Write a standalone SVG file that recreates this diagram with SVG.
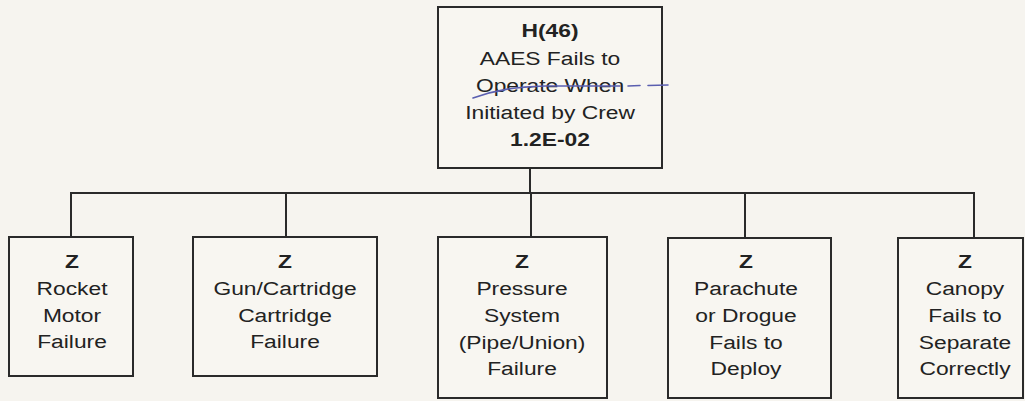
<svg xmlns="http://www.w3.org/2000/svg" width="1025" height="401" viewBox="0 0 1025 401">
<style>
.bg{fill:#f6f4ef}
.box{fill:#f8f6f1;stroke:#2a2a2a;stroke-width:2}
.wire{fill:none;stroke:#2a2a2a;stroke-width:2}
text{font-family:"Liberation Sans",Arial,sans-serif;font-size:19px;fill:#222;text-anchor:middle}
.b{font-weight:bold}
.pen{fill:none;stroke:#5b5fb0;stroke-width:1.6;stroke-linecap:round}
</style>
<rect class="bg" x="0" y="0" width="1025" height="401"/>
<g id="connectors">
<path class="wire" d="M530 168 V193"/>
<path class="wire" d="M71 237 V193 H974 V238"/>
<path class="wire" d="M286 193 V237"/>
<path class="wire" d="M531 193 V237"/>
<path class="wire" d="M745 193 V238"/>
</g>
<g id="top">
<rect class="box" x="438" y="7" width="224" height="161"/>
<g transform="translate(550,0) scale(1.2,1)">
<text class="b" x="0" y="37">H(46)</text>
<text x="0" y="65">AAES Fails to</text>
<text x="0" y="92">Operate When</text>
<text x="0" y="119">Initiated by Crew</text>
<text class="b" x="0" y="146">1.2E-02</text>
</g>
<path class="pen" d="M473 98 C495 90 515 87 545 86 L620 86 M628 86 L640 85.5 M648 85.5 L668 85"/>
</g>
<g id="n1">
<rect class="box" x="9" y="237" width="124" height="139"/>
<g transform="translate(72,0) scale(1.2,1)">
<text class="b" x="0" y="268">Z</text>
<text x="0" y="295">Rocket</text>
<text x="0" y="322">Motor</text>
<text x="0" y="348">Failure</text>
</g>
</g>
<g id="n2">
<rect class="box" x="193" y="237" width="184" height="139"/>
<g transform="translate(285,0) scale(1.2,1)">
<text class="b" x="0" y="268">Z</text>
<text x="0" y="295">Gun/Cartridge</text>
<text x="0" y="322">Cartridge</text>
<text x="0" y="348">Failure</text>
</g>
</g>
<g id="n3">
<rect class="box" x="438" y="237" width="169" height="161"/>
<g transform="translate(522,0) scale(1.2,1)">
<text class="b" x="0" y="268">Z</text>
<text x="0" y="295">Pressure</text>
<text x="0" y="322">System</text>
<text x="0" y="349">(Pipe/Union)</text>
<text x="0" y="375">Failure</text>
</g>
</g>
<g id="n4">
<rect class="box" x="668" y="238" width="163" height="160"/>
<g transform="translate(746,0) scale(1.2,1)">
<text class="b" x="0" y="268">Z</text>
<text x="0" y="295">Parachute</text>
<text x="0" y="322">or Drogue</text>
<text x="0" y="349">Fails to</text>
<text x="0" y="375">Deploy</text>
</g>
</g>
<g id="n5">
<rect class="box" x="898" y="238" width="125" height="160"/>
<g transform="translate(965,0) scale(1.2,1)">
<text class="b" x="0" y="268">Z</text>
<text x="0" y="295">Canopy</text>
<text x="0" y="322">Fails to</text>
<text x="0" y="349">Separate</text>
<text x="0" y="375">Correctly</text>
</g>
</g>
</svg>
